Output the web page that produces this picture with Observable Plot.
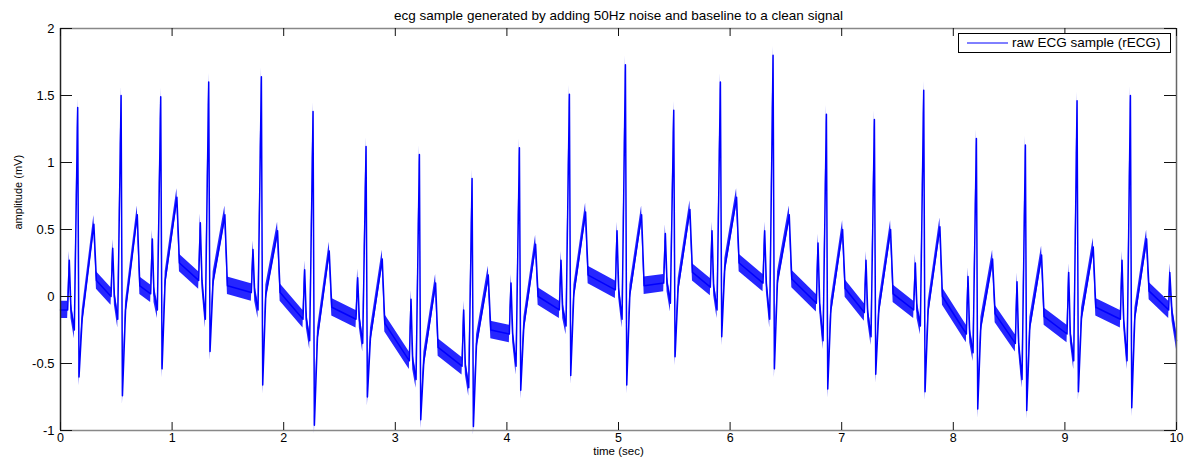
<!DOCTYPE html>
<html><head><meta charset="utf-8">
<script src="https://cdn.jsdelivr.net/npm/d3@7"></script>
<script src="https://cdn.jsdelivr.net/npm/@observablehq/plot@0.6"></script>
<style>
body{margin:0;background:#fff;font-family:"Liberation Sans",Arial,sans-serif;}
#wrap{position:relative;width:1187px;height:457px;}
#legend{position:absolute;left:958px;top:33px;width:211px;height:18px;border:1px solid #000;background:#fff;font-size:13.5px;line-height:18px;white-space:nowrap;color:#000;}
#legend svg{vertical-align:middle;margin:0 4px 0 8px;}
</style></head><body><div id="wrap"></div>
<script>
// ---- data ----
const title = "ecg sample generated by adding 50Hz noise and baseline to a clean signal";
const xLabel = "time (sec)";
const yLabel = "amplitude (mV)";
const seriesName = "raw ECG sample (rECG)";
const xTicks = [0,1,2,3,4,5,6,7,8,9,10];
const yTicks = [-1,-0.5,0,0.5,1,1.5,2];

// R-peak times (s)
const rTime = [0.154,0.543,0.898,1.328,1.800,2.263,2.738,3.216,3.688,4.112,4.560,5.062,5.495,5.913,6.385,6.863,7.293,7.735,8.207,8.646,9.109,9.587];
// time offsets of the wave landmarks relative to R (s): iso, P, post-P, Q, R, S, T start, T peak, T drop
const waveOffsets = [-0.09,-0.075,-0.06,-0.03,0,0.012,0.04,0.145,0.168];
// amplitudes (mV) per beat
const isoV = [-0.10,0.00,0.02,0.12,0.03,-0.17,-0.17,-0.48,-0.52,-0.28,-0.10,0.05,0.10,0.07,0.10,-0.05,-0.12,-0.10,-0.28,-0.35,-0.28,-0.17];
const pV   = [0.27,0.36,0.43,0.55,0.35,0.20,0.14,-0.02,-0.10,0.10,0.27,0.49,0.47,0.49,0.49,0.40,0.27,0.25,0.15,0.11,0.18,0.27];
const qV   = [-0.25,-0.17,-0.10,-0.17,-0.10,-0.33,-0.35,-0.62,-0.68,-0.52,-0.22,-0.17,-0.05,-0.10,-0.17,-0.33,-0.30,-0.22,-0.42,-0.62,-0.48,-0.48];
const rV   = [1.41,1.50,1.49,1.60,1.64,1.38,1.12,1.06,0.88,1.11,1.51,1.73,1.39,1.60,1.80,1.36,1.32,1.54,1.18,1.13,1.46,1.50];
const sV   = [-0.60,-0.74,-0.54,-0.41,-0.66,-0.96,-0.75,-0.92,-0.97,-0.70,-0.59,-0.66,-0.45,-0.30,-0.54,-0.69,-0.58,-0.71,-0.84,-0.85,-0.71,-0.83];
const tsV  = [-0.17,-0.10,0.12,0.12,0.02,-0.30,-0.30,-0.48,-0.35,-0.22,0.02,0.02,0.07,0.22,0.12,-0.10,-0.10,-0.10,-0.22,-0.22,-0.15,-0.15];
const tpV  = [0.54,0.61,0.74,0.61,0.49,0.34,0.28,0.10,0.16,0.39,0.63,0.61,0.65,0.74,0.61,0.50,0.50,0.52,0.28,0.31,0.37,0.43];
const tdV  = [0.12,0.08,0.25,0.08,0.03,-0.08,-0.20,-0.38,-0.25,0.00,0.16,0.08,0.18,0.25,0.13,0.06,0.02,0.00,-0.13,-0.15,-0.08,0.04];
// first and trailing samples
const startT = [0], startV = [-0.10];
const endT = [9.93,9.94,9.96,10.0], endV = [-0.10,0.18,-0.12,-0.33];
// 50 Hz noise half-amplitude (mV)
const noiseHalf = 0.065;

// ---- build the table ----
const pts = [];
startT.forEach((t,i)=>pts.push({t, v:startV[i]}));
rTime.forEach((r,i)=>{
  const vals = [isoV[i],pV[i],isoV[i],qV[i],rV[i],sV[i],tsV[i],tpV[i],tdV[i]];
  waveOffsets.forEach((o,k)=>pts.push({t:r+o, v:vals[k]}));
});
endT.forEach((t,i)=>pts.push({t, v:endV[i]}));

const fmt = d => String(d);
const blue = "#0000ff";
const font = "Liberation Sans, Arial, sans-serif";

const chart = Plot.plot({
  width: 1187, height: 457,
  marginLeft: 60, marginRight: 11, marginTop: 28, marginBottom: 27,
  x: {domain:[0,10], axis:null},
  y: {domain:[-1,2], axis:null},
  style: {fontFamily: font, background:"#fff", overflow:"visible"},
  marks: [
    Plot.areaY(pts, {x:"t", y1:d=>d.v-noiseHalf, y2:d=>d.v+noiseHalf, fill:blue, fillOpacity:0.85}),
    Plot.line(pts, {x:"t", y:"v", stroke:blue, strokeWidth:1.5}),
    // frame
    Plot.ruleY([-1,2], {stroke:"#888", strokeWidth:1.5}),
    Plot.ruleX([0], {stroke:"#222", strokeWidth:1.5}),
    Plot.ruleX([10], {stroke:"#666", strokeWidth:1.5}),
    // inward ticks
    Plot.tickX(xTicks, {x:d=>d, insetTop:394, stroke:"#111"}),
    Plot.tickX(xTicks, {x:d=>d, insetBottom:394, stroke:"#111"}),
    Plot.tickY(yTicks, {y:d=>d, insetRight:1104, stroke:"#111"}),
    Plot.tickY(yTicks, {y:d=>d, insetLeft:1104, stroke:"#111"}),
    // tick labels
    Plot.text(xTicks, {x:d=>d, y:-1, text:fmt, dy:3, lineAnchor:"top", fontSize:12.5, fill:"#000"}),
    Plot.text(yTicks, {x:0, y:d=>d, text:fmt, textAnchor:"end", dx:-6, fontSize:13, fill:"#000"}),
    // axis titles and title
    Plot.text([xLabel], {frameAnchor:"bottom", dy:21, lineAnchor:"middle", fontSize:11.5, fill:"#000"}),
    Plot.text([yLabel], {frameAnchor:"left", dx:-42, rotate:-90, fontSize:11, fill:"#000"}),
    Plot.text([title], {frameAnchor:"top", dy:-13, lineAnchor:"middle", fontSize:13.5, fill:"#000"})
  ]
});
const wrap = document.getElementById("wrap");
wrap.appendChild(chart);
const leg = document.createElement("div");
leg.id = "legend";
leg.innerHTML = '<svg width="41" height="4"><line x1="0" x2="41" y1="2" y2="2" stroke="#0000ff" stroke-width="1"/></svg>' + seriesName;
wrap.appendChild(leg);
</script>
</body></html>
